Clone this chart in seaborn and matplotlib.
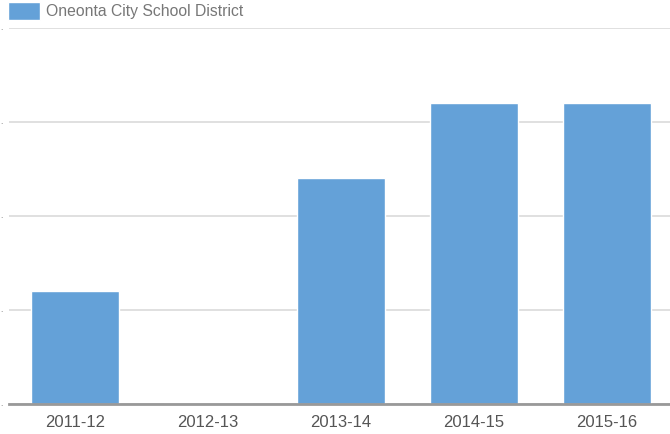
import matplotlib
matplotlib.use("Agg")
import matplotlib.pyplot as plt
import seaborn as sns
import pandas as pd

# Data
years = ["2011-12", "2012-13", "2013-14", "2014-15", "2015-16"]
values = [3, 0, 6, 8, 8]
series_name = "Oneonta City School District"
y_ticks = [0, 2.5, 5, 7.5, 10]

df = pd.DataFrame({"year": years, "value": values})

sns.set_style("white")
plt.rcParams['font.family'] = ['Liberation Sans', 'DejaVu Sans']

fig = plt.figure(figsize=(6.7, 4.34), dpi=100)
ax = fig.add_axes([8.5 / 670, 30 / 434, (670 - 8.5) / 670, 376 / 434])

bar_color = "#64a1d8"
sns.barplot(data=df, x="year", y="value", color=bar_color, width=0.66,
            saturation=1, ax=ax, label=series_name)

ax.set_xlim(-0.5, 4.475)
ax.set_ylim(0, 10)
ax.set_yticks(y_ticks)
ax.set_yticklabels(["."] * len(y_ticks), fontsize=6, color="#666666")
ax.tick_params(axis="y", length=0, pad=4)
ax.tick_params(axis="x", length=0, labelsize=12, labelcolor="#555555", pad=8)
ax.set_xlabel("")
ax.set_ylabel("")

# grid
ax.yaxis.grid(True, color="#dddddd", linewidth=1.3)
ax.set_axisbelow(True)
for s in ["top", "right", "left"]:
    ax.spines[s].set_visible(False)
ax.spines["bottom"].set_color("#999999")
ax.spines["bottom"].set_linewidth(2)
ax.spines["bottom"].set_zorder(3)

leg = ax.legend(loc="upper left", bbox_to_anchor=(-0.001, 1.068), frameon=False,
                fontsize=11.3, handlelength=2.05, handleheight=1.35,
                handletextpad=0.4, borderaxespad=0, borderpad=0)
for t in leg.get_texts():
    t.set_color("#777777")

fig.savefig("out.png", dpi=100)
